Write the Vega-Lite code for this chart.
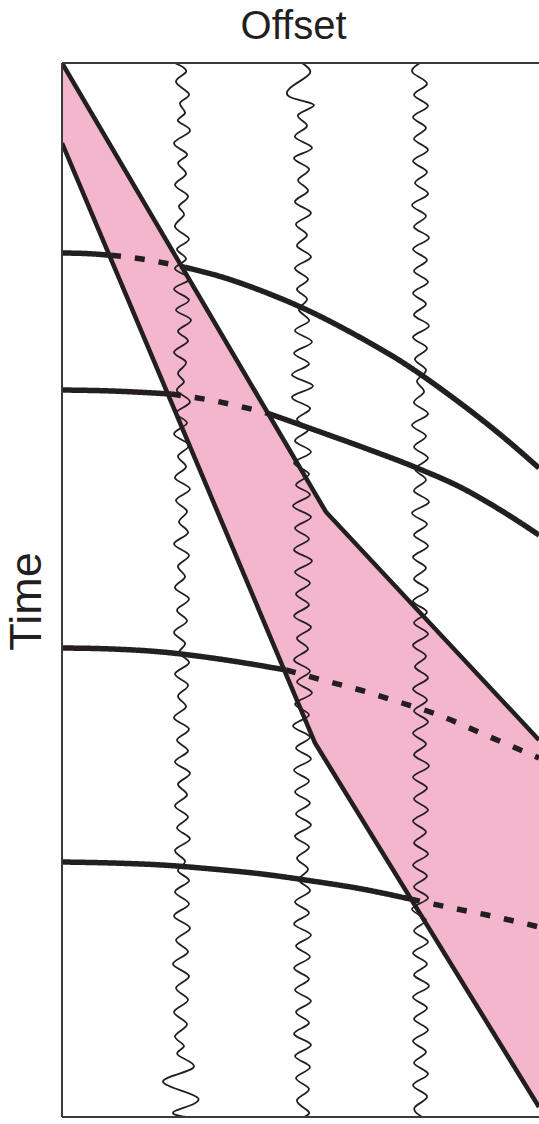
{
  "$schema": "https://vega.github.io/schema/vega-lite/v6.json",
  "width": 477,
  "height": 1054,
  "autosize": {"type": "none"},
  "padding": {"left": 62, "top": 63, "right": 0, "bottom": 7},
  "background": "white",
  "config": {"view": {"stroke": null}},
  "datasets": {
    "band": [
      {"x": 0, "t1": 0, "t2": 80},
      {"x": 253, "t1": 430, "t2": 680},
      {"x": 264, "t1": 449, "t2": 698},
      {"x": 477, "t1": 677, "t2": 1044}
    ],
    "bounds": [
      {"b": "upper", "x": 0, "t": 0},
      {"b": "upper", "x": 264, "t": 449},
      {"b": "upper", "x": 477, "t": 677},
      {"b": "lower", "x": 0, "t": 80},
      {"b": "lower", "x": 253, "t": 680},
      {"b": "lower", "x": 477, "t": 1044}
    ],
    "curves": [
      {"id": "1a", "s": "solid", "x": 0, "t": 190},
      {"id": "1a", "s": "solid", "x": 25, "t": 190.6},
      {"id": "1a", "s": "solid", "x": 49, "t": 192.3},
      {"id": "1b", "s": "dashed", "x": 49, "t": 192.3},
      {"id": "1b", "s": "dashed", "x": 80, "t": 196},
      {"id": "1b", "s": "dashed", "x": 119, "t": 203.4},
      {"id": "1c", "s": "solid", "x": 119, "t": 203.4},
      {"id": "1c", "s": "solid", "x": 160, "t": 214},
      {"id": "1c", "s": "solid", "x": 200, "t": 228},
      {"id": "1c", "s": "solid", "x": 245, "t": 247},
      {"id": "1c", "s": "solid", "x": 290, "t": 270},
      {"id": "1c", "s": "solid", "x": 340, "t": 299},
      {"id": "1c", "s": "solid", "x": 390, "t": 334},
      {"id": "1c", "s": "solid", "x": 440, "t": 373},
      {"id": "1c", "s": "solid", "x": 477, "t": 405},
      {"id": "2a", "s": "solid", "x": 0, "t": 327},
      {"id": "2a", "s": "solid", "x": 50, "t": 328},
      {"id": "2a", "s": "solid", "x": 109, "t": 331},
      {"id": "2b", "s": "dashed", "x": 109, "t": 331},
      {"id": "2b", "s": "dashed", "x": 153, "t": 338},
      {"id": "2b", "s": "dashed", "x": 205, "t": 350},
      {"id": "2c", "s": "solid", "x": 205, "t": 350},
      {"id": "2c", "s": "solid", "x": 250, "t": 366},
      {"id": "2c", "s": "solid", "x": 300, "t": 384},
      {"id": "2c", "s": "solid", "x": 355, "t": 405},
      {"id": "2c", "s": "solid", "x": 400, "t": 425},
      {"id": "2c", "s": "solid", "x": 440, "t": 448},
      {"id": "2c", "s": "solid", "x": 477, "t": 472},
      {"id": "3a", "s": "solid", "x": 0, "t": 585},
      {"id": "3a", "s": "solid", "x": 50, "t": 586},
      {"id": "3a", "s": "solid", "x": 100, "t": 589},
      {"id": "3a", "s": "solid", "x": 150, "t": 595},
      {"id": "3a", "s": "solid", "x": 224, "t": 607},
      {"id": "3b", "s": "dashed", "x": 224, "t": 607},
      {"id": "3b", "s": "dashed", "x": 260, "t": 617},
      {"id": "3b", "s": "dashed", "x": 298, "t": 627},
      {"id": "3b", "s": "dashed", "x": 340, "t": 640},
      {"id": "3b", "s": "dashed", "x": 371, "t": 650},
      {"id": "3b", "s": "dashed", "x": 428, "t": 674},
      {"id": "3b", "s": "dashed", "x": 477, "t": 695},
      {"id": "4a", "s": "solid", "x": 0, "t": 799},
      {"id": "4a", "s": "solid", "x": 50, "t": 800},
      {"id": "4a", "s": "solid", "x": 100, "t": 802},
      {"id": "4a", "s": "solid", "x": 150, "t": 806},
      {"id": "4a", "s": "solid", "x": 200, "t": 811},
      {"id": "4a", "s": "solid", "x": 250, "t": 818},
      {"id": "4a", "s": "solid", "x": 300, "t": 826},
      {"id": "4a", "s": "solid", "x": 348, "t": 836},
      {"id": "4b", "s": "dashed", "x": 348, "t": 836},
      {"id": "4b", "s": "dashed", "x": 390, "t": 845},
      {"id": "4b", "s": "dashed", "x": 425, "t": 852},
      {"id": "4b", "s": "dashed", "x": 477, "t": 864}
    ],
    "frame": [
      {"x": 0, "x2": 477, "t": 0, "t2": 0},
      {"x": 0, "x2": 477, "t": 1054, "t2": 1054},
      {"x": 0, "x2": 0, "t": 0, "t2": 1054}
    ],
    "traces": [
      {"k":"A","x":113,"t":0},{"k":"A","x":124,"t":9},{"k":"A","x":114,"t":19},{"k":"A","x":127,"t":31},{"k":"A","x":118,"t":40},{"k":"A","x":123,"t":50},{"k":"A","x":116,"t":58},{"k":"A","x":128,"t":68},{"k":"A","x":112,"t":80},{"k":"A","x":125,"t":91},
      {"k":"A","x":116,"t":100},{"k":"A","x":124,"t":111},{"k":"A","x":113,"t":122},{"k":"A","x":126,"t":133},{"k":"A","x":117,"t":143},{"k":"A","x":122,"t":152},{"k":"A","x":113,"t":164},{"k":"A","x":127,"t":176},{"k":"A","x":115,"t":186},{"k":"A","x":124,"t":196},
      {"k":"A","x":113,"t":206},{"k":"A","x":128,"t":216},{"k":"A","x":112,"t":226},{"k":"A","x":127,"t":237},{"k":"A","x":114,"t":247},{"k":"A","x":129,"t":257},{"k":"A","x":116,"t":268},{"k":"A","x":126,"t":278},{"k":"A","x":112,"t":289},{"k":"A","x":124,"t":299},
      {"k":"A","x":116,"t":310},{"k":"A","x":122,"t":319},{"k":"A","x":115,"t":328},{"k":"A","x":128,"t":339},{"k":"A","x":114,"t":350},{"k":"A","x":125,"t":360},{"k":"A","x":112,"t":371},{"k":"A","x":127,"t":382},{"k":"A","x":116,"t":393},{"k":"A","x":124,"t":404},
      {"k":"A","x":113,"t":415},{"k":"A","x":128,"t":426},{"k":"A","x":114,"t":437},{"k":"A","x":125,"t":448},{"k":"A","x":117,"t":459},{"k":"A","x":126,"t":470},{"k":"A","x":112,"t":481},{"k":"A","x":127,"t":492},{"k":"A","x":116,"t":503},{"k":"A","x":123,"t":514},
      {"k":"A","x":113,"t":525},{"k":"A","x":127,"t":536},{"k":"A","x":115,"t":547},{"k":"A","x":125,"t":558},{"k":"A","x":112,"t":569},{"k":"A","x":123,"t":580},{"k":"A","x":117,"t":590},{"k":"A","x":127,"t":600},{"k":"A","x":113,"t":611},{"k":"A","x":126,"t":622},
      {"k":"A","x":116,"t":633},{"k":"A","x":124,"t":644},{"k":"A","x":112,"t":655},{"k":"A","x":127,"t":666},{"k":"A","x":115,"t":677},{"k":"A","x":126,"t":688},{"k":"A","x":113,"t":699},{"k":"A","x":128,"t":710},{"k":"A","x":116,"t":721},{"k":"A","x":125,"t":732},
      {"k":"A","x":113,"t":743},{"k":"A","x":126,"t":754},{"k":"A","x":115,"t":765},{"k":"A","x":128,"t":776},{"k":"A","x":113,"t":787},{"k":"A","x":123,"t":798},{"k":"A","x":116,"t":808},{"k":"A","x":127,"t":818},{"k":"A","x":113,"t":829},{"k":"A","x":127,"t":841},
      {"k":"A","x":112,"t":853},{"k":"A","x":128,"t":865},{"k":"A","x":114,"t":877},{"k":"A","x":126,"t":889},{"k":"A","x":111,"t":901},{"k":"A","x":127,"t":913},{"k":"A","x":114,"t":925},{"k":"A","x":126,"t":937},{"k":"A","x":112,"t":949},{"k":"A","x":125,"t":961},
      {"k":"A","x":113,"t":973},{"k":"A","x":122,"t":983},{"k":"A","x":116,"t":992},{"k":"A","x":131,"t":1005},{"k":"A","x":101,"t":1019},{"k":"A","x":136,"t":1035},{"k":"A","x":113,"t":1048},{"k":"A","x":124,"t":1054},

      {"k":"B","x":240,"t":0},{"k":"B","x":248,"t":10},{"k":"B","x":232,"t":22},{"k":"B","x":228,"t":34},{"k":"B","x":252,"t":42},{"k":"B","x":236,"t":52},{"k":"B","x":245,"t":63},{"k":"B","x":233,"t":74},{"k":"B","x":250,"t":85},{"k":"B","x":232,"t":95},
      {"k":"B","x":247,"t":106},{"k":"B","x":236,"t":117},{"k":"B","x":246,"t":128},{"k":"B","x":233,"t":139},{"k":"B","x":249,"t":150},{"k":"B","x":234,"t":161},{"k":"B","x":245,"t":172},{"k":"B","x":235,"t":183},{"k":"B","x":249,"t":194},{"k":"B","x":233,"t":205},
      {"k":"B","x":246,"t":216},{"k":"B","x":235,"t":226},{"k":"B","x":245,"t":236},{"k":"B","x":237,"t":247},{"k":"B","x":247,"t":258},{"k":"B","x":233,"t":268},{"k":"B","x":250,"t":279},{"k":"B","x":232,"t":290},{"k":"B","x":247,"t":301},{"k":"B","x":230,"t":312},
      {"k":"B","x":251,"t":323},{"k":"B","x":230,"t":334},{"k":"B","x":248,"t":345},{"k":"B","x":235,"t":356},{"k":"B","x":246,"t":367},{"k":"B","x":233,"t":378},{"k":"B","x":249,"t":389},{"k":"B","x":232,"t":400},{"k":"B","x":247,"t":411},{"k":"B","x":234,"t":422},
      {"k":"B","x":248,"t":432},{"k":"B","x":231,"t":443},{"k":"B","x":249,"t":454},{"k":"B","x":233,"t":465},{"k":"B","x":247,"t":476},{"k":"B","x":232,"t":487},{"k":"B","x":250,"t":498},{"k":"B","x":233,"t":509},{"k":"B","x":248,"t":520},{"k":"B","x":234,"t":531},
      {"k":"B","x":247,"t":542},{"k":"B","x":232,"t":553},{"k":"B","x":249,"t":564},{"k":"B","x":235,"t":575},{"k":"B","x":246,"t":586},{"k":"B","x":232,"t":597},{"k":"B","x":248,"t":608},{"k":"B","x":235,"t":619},{"k":"B","x":250,"t":630},{"k":"B","x":233,"t":641},
      {"k":"B","x":247,"t":652},{"k":"B","x":231,"t":663},{"k":"B","x":248,"t":674},{"k":"B","x":234,"t":685},{"k":"B","x":249,"t":696},{"k":"B","x":232,"t":707},{"k":"B","x":247,"t":718},{"k":"B","x":233,"t":729},{"k":"B","x":248,"t":740},{"k":"B","x":234,"t":751},
      {"k":"B","x":249,"t":762},{"k":"B","x":233,"t":773},{"k":"B","x":247,"t":784},{"k":"B","x":235,"t":795},{"k":"B","x":246,"t":806},{"k":"B","x":237,"t":817},{"k":"B","x":248,"t":828},{"k":"B","x":233,"t":839},{"k":"B","x":247,"t":850},{"k":"B","x":232,"t":861},
      {"k":"B","x":249,"t":872},{"k":"B","x":234,"t":883},{"k":"B","x":248,"t":894},{"k":"B","x":232,"t":905},{"k":"B","x":247,"t":916},{"k":"B","x":233,"t":927},{"k":"B","x":249,"t":938},{"k":"B","x":234,"t":949},{"k":"B","x":247,"t":960},{"k":"B","x":232,"t":971},
      {"k":"B","x":249,"t":982},{"k":"B","x":233,"t":993},{"k":"B","x":248,"t":1004},{"k":"B","x":234,"t":1015},{"k":"B","x":247,"t":1026},{"k":"B","x":235,"t":1037},{"k":"B","x":246,"t":1048},{"k":"B","x":242,"t":1054},

      {"k":"C","x":358,"t":0},{"k":"C","x":351,"t":10},{"k":"C","x":365,"t":21},{"k":"C","x":352,"t":32},{"k":"C","x":366,"t":43},{"k":"C","x":351,"t":54},{"k":"C","x":364,"t":65},{"k":"C","x":352,"t":76},{"k":"C","x":366,"t":87},{"k":"C","x":351,"t":98},
      {"k":"C","x":365,"t":109},{"k":"C","x":353,"t":120},{"k":"C","x":366,"t":131},{"k":"C","x":350,"t":142},{"k":"C","x":364,"t":153},{"k":"C","x":352,"t":164},{"k":"C","x":367,"t":175},{"k":"C","x":351,"t":186},{"k":"C","x":365,"t":197},{"k":"C","x":352,"t":208},
      {"k":"C","x":366,"t":219},{"k":"C","x":351,"t":230},{"k":"C","x":364,"t":241},{"k":"C","x":352,"t":252},{"k":"C","x":367,"t":263},{"k":"C","x":351,"t":274},{"k":"C","x":365,"t":285},{"k":"C","x":353,"t":296},{"k":"C","x":364,"t":307},{"k":"C","x":355,"t":318},
      {"k":"C","x":362,"t":329},{"k":"C","x":352,"t":340},{"k":"C","x":366,"t":351},{"k":"C","x":350,"t":362},{"k":"C","x":364,"t":373},{"k":"C","x":352,"t":384},{"k":"C","x":366,"t":395},{"k":"C","x":353,"t":406},{"k":"C","x":364,"t":417},{"k":"C","x":352,"t":428},
      {"k":"C","x":367,"t":439},{"k":"C","x":350,"t":450},{"k":"C","x":365,"t":461},{"k":"C","x":352,"t":472},{"k":"C","x":366,"t":483},{"k":"C","x":351,"t":494},{"k":"C","x":364,"t":505},{"k":"C","x":352,"t":516},{"k":"C","x":366,"t":527},{"k":"C","x":351,"t":538},
      {"k":"C","x":365,"t":549},{"k":"C","x":352,"t":560},{"k":"C","x":366,"t":571},{"k":"C","x":351,"t":582},{"k":"C","x":364,"t":593},{"k":"C","x":353,"t":604},{"k":"C","x":366,"t":615},{"k":"C","x":351,"t":626},{"k":"C","x":365,"t":637},{"k":"C","x":352,"t":648},
      {"k":"C","x":366,"t":659},{"k":"C","x":351,"t":670},{"k":"C","x":364,"t":681},{"k":"C","x":352,"t":692},{"k":"C","x":367,"t":703},{"k":"C","x":351,"t":714},{"k":"C","x":365,"t":725},{"k":"C","x":352,"t":736},{"k":"C","x":366,"t":747},{"k":"C","x":351,"t":758},
      {"k":"C","x":364,"t":769},{"k":"C","x":352,"t":780},{"k":"C","x":366,"t":791},{"k":"C","x":351,"t":802},{"k":"C","x":365,"t":813},{"k":"C","x":352,"t":824},{"k":"C","x":366,"t":835},{"k":"C","x":350,"t":846},{"k":"C","x":364,"t":857},{"k":"C","x":352,"t":868},
      {"k":"C","x":366,"t":879},{"k":"C","x":351,"t":890},{"k":"C","x":365,"t":901},{"k":"C","x":352,"t":912},{"k":"C","x":367,"t":923},{"k":"C","x":351,"t":934},{"k":"C","x":365,"t":945},{"k":"C","x":352,"t":956},{"k":"C","x":366,"t":967},{"k":"C","x":351,"t":978},
      {"k":"C","x":364,"t":989},{"k":"C","x":352,"t":1000},{"k":"C","x":366,"t":1011},{"k":"C","x":351,"t":1022},{"k":"C","x":365,"t":1033},{"k":"C","x":353,"t":1044},{"k":"C","x":360,"t":1054}
    ]
  },
  "layer": [
    {
      "data": {"name": "band"},
      "mark": {"type": "area", "color": "#f3b6cd", "clip": true},
      "encoding": {
        "x": {"field": "x", "type": "quantitative", "scale": {"domain": [0, 477], "nice": false, "zero": false},
          "axis": {"orient": "top", "domain": false, "ticks": false, "labels": false, "grid": false,
            "title": "Offset", "titleFont": "Liberation Sans", "titleFontSize": 40, "titleFontWeight": "normal",
            "titleColor": "#231f20", "titleX": 231, "titleY": -25, "titleBaseline": "alphabetic", "titleAlign": "center"}},
        "y": {"field": "t1", "type": "quantitative", "scale": {"domain": [0, 1054], "nice": false, "zero": false, "reverse": true},
          "axis": {"orient": "left", "domain": false, "ticks": false, "labels": false, "grid": false,
            "title": "Time", "titleFont": "Liberation Sans", "titleFontSize": 45, "titleFontWeight": "normal",
            "titleColor": "#231f20", "titleX": -22, "titleY": 538, "titleAngle": 270, "titleBaseline": "alphabetic", "titleAlign": "center"}},
        "y2": {"field": "t2"}
      }
    },
    {
      "data": {"name": "traces"},
      "mark": {"type": "line", "interpolate": "natural", "color": "#231f20", "strokeWidth": 1.8, "clip": true},
      "encoding": {
        "x": {"field": "x", "type": "quantitative"},
        "y": {"field": "t", "type": "quantitative"},
        "order": {"field": "t", "type": "quantitative"},
        "detail": {"field": "k"}
      }
    },
    {
      "data": {"name": "bounds"},
      "mark": {"type": "line", "color": "#231f20", "strokeWidth": 4.5, "strokeJoin": "miter", "clip": true},
      "encoding": {
        "x": {"field": "x", "type": "quantitative"},
        "y": {"field": "t", "type": "quantitative"},
        "detail": {"field": "b"}
      }
    },
    {
      "data": {"name": "curves"},
      "mark": {"type": "line", "interpolate": "monotone", "color": "#231f20", "strokeWidth": 5.5, "clip": true},
      "encoding": {
        "x": {"field": "x", "type": "quantitative"},
        "y": {"field": "t", "type": "quantitative"},
        "detail": {"field": "id"},
        "strokeDash": {"field": "s", "type": "nominal", "scale": {"domain": ["solid", "dashed"], "range": [[1, 0], [10, 14]]}, "legend": null}
      }
    },
    {
      "data": {"name": "frame"},
      "mark": {"type": "rule", "color": "#3a3a3a", "strokeWidth": 2},
      "encoding": {
        "x": {"field": "x", "type": "quantitative"},
        "x2": {"field": "x2"},
        "y": {"field": "t", "type": "quantitative"},
        "y2": {"field": "t2"}
      }
    }
  ]
}
